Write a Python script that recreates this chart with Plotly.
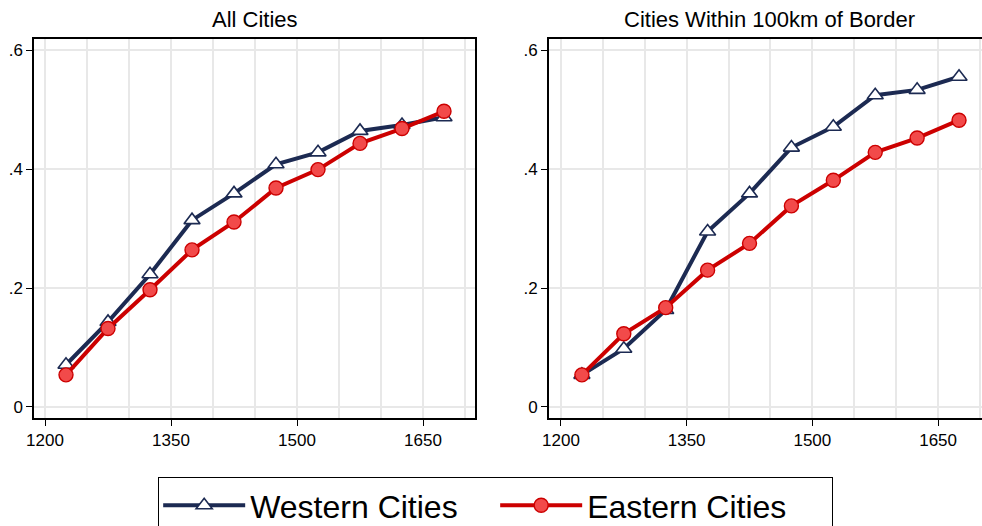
import plotly.graph_objects as go

years = [1225, 1275, 1325, 1375, 1425, 1475, 1525, 1575, 1625, 1675]

all_western = [0.071, 0.143, 0.223, 0.314, 0.359, 0.408, 0.428, 0.464, 0.474, 0.487]
all_eastern = [0.054, 0.132, 0.197, 0.264, 0.311, 0.368, 0.399, 0.443, 0.468, 0.497]

border_western = [0.054, 0.098, 0.163, 0.295, 0.359, 0.436, 0.471, 0.524, 0.533, 0.555]
border_eastern = [0.054, 0.123, 0.167, 0.230, 0.275, 0.338, 0.381, 0.428, 0.452, 0.482]

panel_titles = ["All Cities", "Cities Within 100km of Border"]
series_names = ["Western Cities", "Eastern Cities"]
x_tickvals = [1200, 1350, 1500, 1650]
y_tickvals = [0, 0.2, 0.4, 0.6]
y_ticktext = ["0", ".2", ".4", ".6"]

NAVY = "#1c2a52"
RED = "#cc0000"
RED_FILL = "#f24a4a"
FONT = "Liberation Sans, Arial, Helvetica, sans-serif"

fig = go.Figure()

panels = [(all_western, all_eastern, "x", "y"), (border_western, border_eastern, "x2", "y2")]
for i, (w, e, xa, ya) in enumerate(panels):
    fig.add_trace(go.Scatter(
        x=years, y=w, mode="lines+markers", name=series_names[0],
        xaxis=xa, yaxis=ya, showlegend=(i == 0), legendgroup="w",
        line=dict(color=NAVY, width=4),
        marker=dict(symbol="triangle-up", size=14, color="white",
                    line=dict(color=NAVY, width=1.6)),
        cliponaxis=False,
    ))
    fig.add_trace(go.Scatter(
        x=years, y=e, mode="lines+markers", name=series_names[1],
        xaxis=xa, yaxis=ya, showlegend=(i == 0), legendgroup="e",
        line=dict(color=RED, width=4),
        marker=dict(symbol="circle", size=14, color=RED_FILL,
                    line=dict(color=RED, width=1.4)),
        cliponaxis=False,
    ))

GRID = "#e8e8e8"
TICKFONT = dict(size=17, color="black", family=FONT)
common_x = dict(
    tickmode="array", tickvals=x_tickvals, ticks="outside", ticklen=6,
    tickwidth=1.2, tickcolor="black", showline=True, linecolor="black",
    linewidth=1.5, mirror=True, showgrid=True, gridcolor=GRID, gridwidth=1.5,
    minor=dict(dtick=50, tick0=1200, showgrid=True, gridcolor=GRID, gridwidth=1.5, ticks=""),
    zeroline=False, tickfont=TICKFONT, automargin=False,
)
common_y = dict(
    tickmode="array", tickvals=y_tickvals, ticktext=y_ticktext, ticks="outside",
    ticklen=6, tickwidth=1.2, tickcolor="black", showline=True, linecolor="black",
    linewidth=1.5, showgrid=True, gridcolor=GRID, gridwidth=1.5,
    zeroline=False, range=[-0.0185, 0.6185], tickfont=TICKFONT, automargin=False,
)

fig.update_layout(
    width=982, height=526,
    margin=dict(l=34, r=0, t=39, b=108),
    paper_bgcolor="white", plot_bgcolor="white",
    font=dict(family=FONT, color="black"),
    xaxis=dict(domain=[0, 0.4652], range=[1186.9, 1711.9], anchor="y", **common_x),
    yaxis=dict(domain=[0, 1], anchor="x", mirror=True, **common_y),
    xaxis2=dict(domain=[0.5432, 1], range=[1185.7, 1702.4], anchor="y2", **common_x),
    yaxis2=dict(domain=[0, 1], anchor="x2", mirror=False, **common_y),
    legend=dict(
        orientation="h", x=0.487, xanchor="center",
        yref="container", y=1 - 477 / 526, yanchor="top",
        bordercolor="black", borderwidth=1, font=dict(size=32, family=FONT, color="black"),
        bgcolor="white", itemwidth=82, entrywidth=240, entrywidthmode="pixels",
    ),
    annotations=[
        dict(text=panel_titles[0], x=0.4652 / 2, xref="paper", xanchor="center",
             y=1, yref="paper", yanchor="bottom", yshift=5, showarrow=False,
             font=dict(size=22, family=FONT)),
        dict(text=panel_titles[1], x=(0.5432 + 1.0093) / 2, xref="paper", xanchor="center",
             y=1, yref="paper", yanchor="bottom", yshift=5, showarrow=False,
             font=dict(size=22, family=FONT)),
    ],
)

fig.write_html("out.html", config={"displayModeBar": False},
               post_script="document.body.style.margin='0';")
